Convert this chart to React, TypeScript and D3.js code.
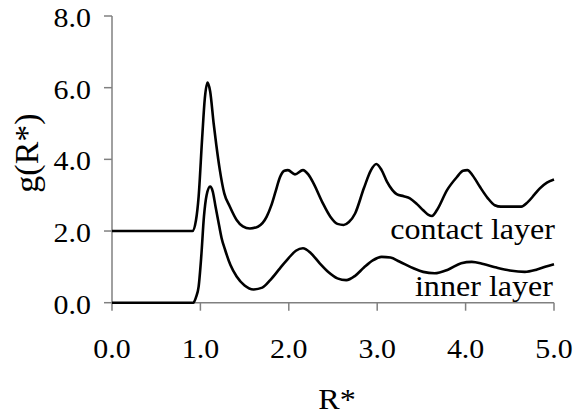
import React from "react";
import * as d3 from "d3";

const contactR = [0, 0.91, 0.95, 0.98, 1.02, 1.05, 1.08, 1.11, 1.15, 1.18, 1.22, 1.27, 1.33, 1.41, 1.48, 1.56, 1.65, 1.75, 1.8, 1.85, 1.9, 1.95, 1.99, 2.07, 2.16, 2.22, 2.28, 2.38, 2.47, 2.55, 2.62, 2.68, 2.75, 2.85, 2.93, 2.99, 3.05, 3.11, 3.17, 3.22, 3.3, 3.37, 3.45, 3.52, 3.58, 3.62, 3.68, 3.79, 3.9, 3.97, 4.02, 4.08, 4.16, 4.25, 4.33, 4.4, 4.5, 4.63, 4.7, 4.78, 4.84, 4.92, 5.0];
const contactG = [2.0, 2.0, 2.3, 2.96, 4.6, 5.7, 6.14, 5.9, 5.0, 4.4, 3.7, 3.05, 2.7, 2.31, 2.13, 2.07, 2.12, 2.4, 2.7, 3.1, 3.5, 3.68, 3.7, 3.58, 3.7, 3.58, 3.33, 2.8, 2.4, 2.2, 2.17, 2.25, 2.49, 3.2, 3.7, 3.87, 3.7, 3.38, 3.15, 3.03, 2.97, 2.91, 2.75, 2.58, 2.45, 2.42, 2.6, 3.14, 3.5, 3.68, 3.7, 3.55, 3.24, 2.92, 2.72, 2.68, 2.68, 2.68, 2.8, 3.02, 3.19, 3.35, 3.44];

const innerR = [0, 0.92, 0.95, 0.98, 1.01, 1.04, 1.07, 1.11, 1.14, 1.17, 1.2, 1.24, 1.28, 1.34, 1.41, 1.5, 1.6, 1.7, 1.79, 1.9, 2.0, 2.08, 2.16, 2.25, 2.35, 2.45, 2.55, 2.65, 2.75, 2.85, 2.95, 3.05, 3.15, 3.25, 3.41, 3.52, 3.65, 3.8, 3.95, 4.07, 4.2, 4.35, 4.5, 4.67, 4.8, 4.9, 5.0];
const innerG = [0, 0, 0.15, 0.45, 1.3, 2.4, 3.0, 3.24, 3.1, 2.7, 2.31, 1.8, 1.47, 1.05, 0.73, 0.48, 0.37, 0.42, 0.63, 0.96, 1.25, 1.45, 1.52, 1.38, 1.1, 0.85, 0.68, 0.63, 0.75, 0.98, 1.18, 1.28, 1.26, 1.15, 0.96, 0.86, 0.82, 0.92, 1.1, 1.14, 1.08, 0.98, 0.9, 0.86, 0.92, 1.0, 1.07];

const xTicks = [0, 1, 2, 3, 4, 5];
const yTicks = [0, 2, 4, 6, 8];
const seriesLabels = ["contact layer", "inner layer"];

const W = 581;
const H = 416;
const FONT = "Liberation Serif";
const SX = 1.07;

export default function App() {
  const x = d3.scaleLinear().domain([0, 5]).range([112, 554]);
  const y = d3.scaleLinear().domain([0, 8]).range([302.7, 16]);
  const line = d3
    .line<[number, number]>()
    .x((d) => x(d[0]))
    .y((d) => y(d[1]))
    .curve(d3.curveMonotoneX);
  const contact = contactR.map((r, i) => [r, contactG[i]] as [number, number]);
  const inner = innerR.map((r, i) => [r, innerG[i]] as [number, number]);
  const axisColor = "#808080";
  return (
    <svg width={W} height={H} style={{ position: "absolute", left: 0, top: 0, background: "#fff" }}>
      <rect width={W} height={H} fill="#fff" />
      <line x1={x(0)} x2={x(0)} y1={y(8)} y2={y(0)} stroke={axisColor} strokeWidth={1.5} />
      {yTicks.map((t) => (
        <g key={"y" + t}>
          <line x1={x(0) - 8} x2={x(0)} y1={y(t)} y2={y(t)} stroke={axisColor} strokeWidth={1.5} />
          <text
            transform={`translate(${x(0) - 21},${y(t) + 11}) scale(${SX},1)`}
            textAnchor="end"
            fontFamily={FONT}
            fontSize={28}
            fill="#000"
          >
            {t.toFixed(1)}
          </text>
        </g>
      ))}
      <line x1={x(0)} x2={x(5)} y1={y(0)} y2={y(0)} stroke={axisColor} strokeWidth={1.5} />
      {xTicks.map((t) => (
        <g key={"x" + t}>
          <line x1={x(t)} x2={x(t)} y1={y(0)} y2={y(0) + 8} stroke={axisColor} strokeWidth={1.5} />
          <text
            transform={`translate(${x(t)},${358}) scale(${SX},1)`}
            textAnchor="middle"
            fontFamily={FONT}
            fontSize={28}
            fill="#000"
          >
            {t.toFixed(1)}
          </text>
        </g>
      ))}
      <path d={line(contact) || ""} fill="none" stroke="#000" strokeWidth={2.6} strokeLinejoin="round" />
      <path d={line(inner) || ""} fill="none" stroke="#000" strokeWidth={2.6} strokeLinejoin="round" />
      <text
        transform={`translate(555,239) scale(${SX},1)`}
        textAnchor="end"
        fontFamily={FONT}
        fontSize={30}
        fill="#000"
      >
        {seriesLabels[0]}
      </text>
      <text
        transform={`translate(553,296) scale(${SX},1)`}
        textAnchor="end"
        fontFamily={FONT}
        fontSize={30}
        fill="#000"
      >
        {seriesLabels[1]}
      </text>
      <text
        transform={`translate(38,153) rotate(-90)`}
        textAnchor="middle"
        fontFamily={FONT}
        fontSize={34}
        fill="#000"
      >
        g(R*)
      </text>
      <text
        transform={`translate(337,409) scale(${SX},1)`}
        textAnchor="middle"
        fontFamily={FONT}
        fontSize={30}
        fill="#000"
      >
        R*
      </text>
    </svg>
  );
}
